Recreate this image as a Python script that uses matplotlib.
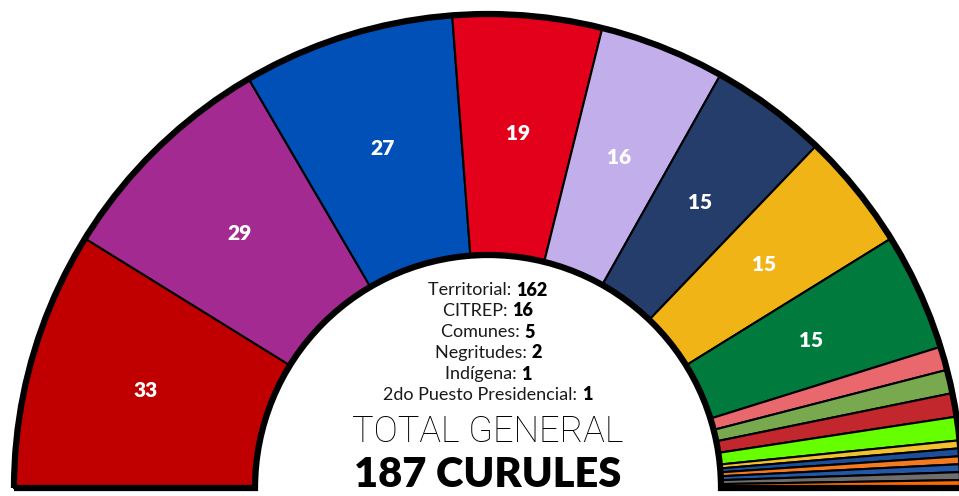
import matplotlib
matplotlib.use('Agg')
import matplotlib.pyplot as plt
from matplotlib.patches import Wedge
import numpy as np

plt.rcParams['font.family'] = ['Lato', 'DejaVu Sans']

# curules por bancada, de izquierda a derecha
curules = [33, 29, 27, 19, 16, 15, 15, 15, 3, 3, 3, 3, 1, 1, 1, 1, 1, 1]
colores = ['#c00000', '#a32a90', '#0050b8', '#e2001a', '#c3aeec', '#253d6b',
           '#f0b416', '#007a3d', '#e8686e', '#78a94f', '#c1272d', '#66ff00',
           '#f2c12e', '#1c4e9a', '#f47a20', '#2457a8', '#6e6e6e', '#ff6a00']
etiqueta_min = 10  # solo se rotulan las bancadas grandes

circ_nombres = ['Territorial', 'CITREP', 'Comunes', 'Negritudes', 'Indígena',
                '2do Puesto Presidencial']
circ_valores = [162, 16, 5, 2, 1, 1]

W, H = 959, 496
fig = plt.figure(figsize=(W / 100, H / 100), dpi=100)
ax = fig.add_axes([0, 0, 1, 1])
ax.set_xlim(0, W)
ax.set_ylim(H, 0)
ax.axis('off')

cx, cy = 488, 488
r_out, r_in = 474, 233
total = sum(curules)

# hemiciclo: angulos de izquierda (180) a derecha (0)
ang = 180.0
for v, c in zip(curules, colores):
    da = 180.0 * v / total
    # y invertido: el angulo en pantalla va con signo negativo
    w = Wedge((cx, cy), r_out, -ang, -(ang - da), width=r_out - r_in,
              facecolor=c, edgecolor='black', linewidth=1.5)
    ax.add_patch(w)
    if v >= etiqueta_min:
        mid = np.radians(ang - da / 2)
        rl = (r_out + r_in) / 2 + 2
        ax.text(cx + rl * np.cos(mid), cy - rl * np.sin(mid), str(v),
                color='white', fontsize=15, fontweight='heavy',
                ha='center', va='center')
    ang -= da

# bordes gruesos
ax.add_patch(Wedge((cx, cy), r_out, 180, 360, width=r_out - r_in,
                   facecolor='none', edgecolor='black', linewidth=4.5))

# desglose de circunscripciones
fig.canvas.draw()
renderer = fig.canvas.get_renderer()
y0, dy = 290, 21
for i, (n, v) in enumerate(zip(circ_nombres, circ_valores)):
    y = y0 + i * dy
    t1 = ax.text(0, y, n + ': ', fontsize=13, ha='left', va='center',
                 color='#1a1a1a')
    t2 = ax.text(0, y, str(v), fontsize=13, fontweight='heavy', ha='left',
                 va='center', color='black')
    w1 = t1.get_window_extent(renderer).width
    w2 = t2.get_window_extent(renderer).width
    x0 = cx - (w1 + w2) / 2
    t1.set_x(x0)
    t2.set_x(x0 + w1)

ax.text(cx, 432, 'TOTAL GENERAL', fontsize=26, fontweight='light',
        family=['Roboto', 'DejaVu Sans'],
        ha='center', va='center', color='black')
ax.text(cx, 475, f'{total} CURULES', fontsize=30, fontweight='heavy',
        ha='center', va='center', color='black')

fig.savefig('out.png', dpi=100)
